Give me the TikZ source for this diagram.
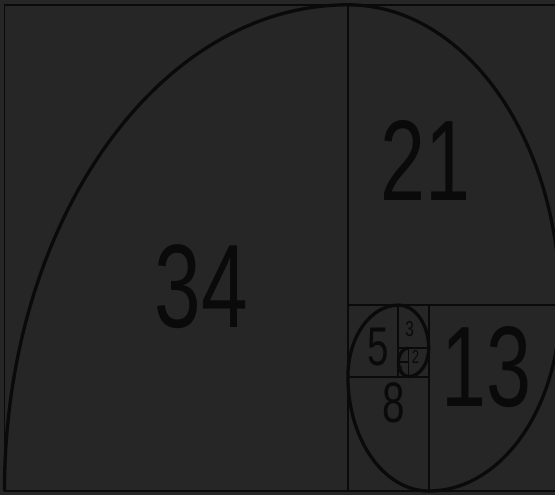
\documentclass[tikz,border=0pt]{standalone}
\usepackage{fontspec}
\setmainfont{Liberation Sans}
\definecolor{fibbg}{HTML}{262626}
\definecolor{fibink}{HTML}{0A0A0A}

\begin{document}
\begin{tikzpicture}[
    x=10.1pt, y=14.3pt,
    edge/.style={draw=fibink,line width=1.9pt},
    spiral/.style={draw=fibink,line width=3.3pt},
    num/.style={text=fibink,inner sep=0pt,yscale=1.416,
                font=\fontsize{#1}{#1}\selectfont}]
  % background and page
  \fill[fibbg] (-0.4455,-0.2797) rectangle (54.505,34.336);
  \clip (-0.4455,-0.2797) rectangle (54.505,34.336);
  % squares
  \draw[edge] (0,0) rectangle (55,34);
  \draw[edge] (34,0) -- (34,34);
  \draw[edge] (34,13) -- (55,13);
  \draw[edge] (42,0) -- (42,13);
  \draw[edge] (34,8) -- (42,8);
  \draw[edge] (39,8) -- (39,13);
  \draw[edge] (39,10) -- (42,10);
  \draw[edge] (40,8) -- (40,10);
  \draw[edge] (39,9) -- (40,9);
  % spiral, one quarter per square
  \draw[spiral] (0,0)
    arc[start angle=180,end angle=90,x radius=34,y radius=34]
    arc[start angle=90,end angle=0,x radius=21,y radius=21]
    arc[start angle=0,end angle=-90,x radius=13,y radius=13]
    arc[start angle=-90,end angle=-180,x radius=8,y radius=8]
    arc[start angle=180,end angle=90,x radius=5,y radius=5]
    arc[start angle=90,end angle=0,x radius=3,y radius=3]
    arc[start angle=0,end angle=-90,x radius=2,y radius=2]
    arc[start angle=-90,end angle=-180,x radius=1,y radius=1]
    arc[start angle=180,end angle=90,x radius=1,y radius=1];
  % labels
  \node[num=83.8pt] (n34) at (19.5,14.3) {34};
  \node[num=80.9pt] (n21) at (41.7,23.1) {21};
  \node[num=80.9pt] (n13) at (47.7,8.7) {13};
  \node[num=40.4pt] (n8) at (38.5,6.2) {8};
  \node[num=38.5pt] (n5) at (37.0,10.1) {5};
  \node[num=15.3pt] (n3) at (40.1,11.35) {3};
  \node[num=13.2pt] (n2) at (40.7,9.35) {2};
  \node[num=7.5pt] (n1) at (39.3,8.45) {1};
\end{tikzpicture}
\end{document}
